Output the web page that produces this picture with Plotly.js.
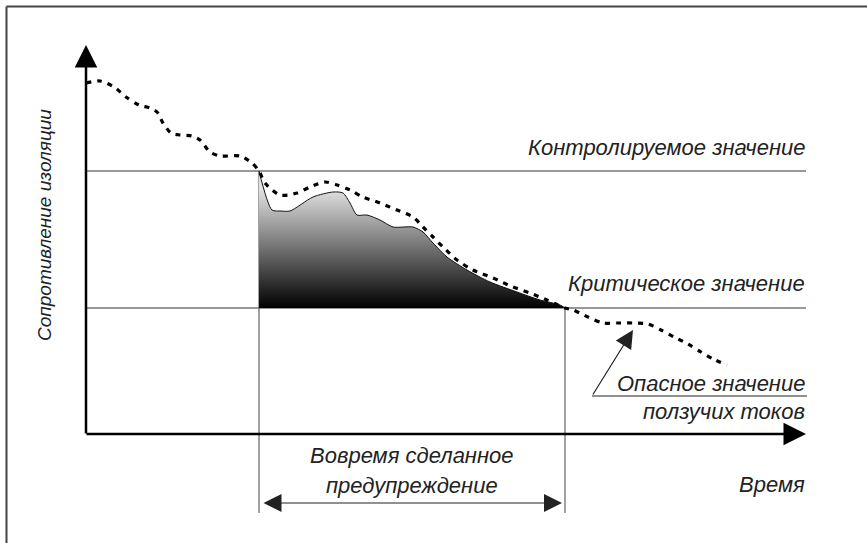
<!DOCTYPE html>
<html><head><meta charset="utf-8">
<script src="https://cdn.plot.ly/plotly-3.0.1.min.js"></script>
<style>body{margin:0;background:#fff}#c{width:867px;height:543px}</style>
</head><body><div id="c"></div>
<script>
// Schematic units: time t (0 at the vertical axis), resistance R (0 at the time axis)
const dottedT = [0,14,28,40,53,64,71,77,85,94,106,114,124,134,154,166,173,179,194,211,224,239,251,264,277,294,311,327,337,347,357,371,387,407,427,444,461,479,487,502,517,531,547,562,575,588,602,615,627,641];
const dottedR = [351,353,347,337,329,326,322,311,301,299,298,294,282,278,278,271,263,251,239,241,247,252,249,244,237,231,224,217,207,197,187,174,164,156,147,141,134,126,124,117,111,111,111,110,104,97,90,82,75,69];

const areaT = [173,186,195,204,227,247,257,264,271,281,294,307,327,337,347,361,381,404,431,454,474,479];
const areaR = [263,224,223,223,237,242,241,231,219,219,214,207,207,202,191,177,164,152,142,134,129,126];

const controlValue = 263;   // Контролируемое значение
const criticalValue = 126;  // Критическое значение
const levelT = [0, 720];
const warnStartT = 173, warnEndT = 479;
const leaderBottomR = -79;

const axisTmax = 720, axisRmax = 389;

const labels = {
  yTitle: 'Сопротивление изоляции',
  control: 'Контролируемое значение',
  critical: 'Критическое значение',
  danger1: 'Опасное значение',
  danger2: 'ползучих токов',
  time: 'Время',
  warn1: 'Вовремя сделанное',
  warn2: 'предупреждение'
};

const FONT = 'Liberation Sans, Arial, sans-serif';
const TXT = '#222';
const fs = 22;

const traces = [
  {x: levelT, y: [controlValue, controlValue], mode:'lines', line:{color:'#333', width:1}, hoverinfo:'skip'},
  {x: levelT, y: [criticalValue, criticalValue], mode:'lines', line:{color:'#333', width:1}, hoverinfo:'skip'},
  {x: [warnStartT, warnStartT], y: [controlValue, leaderBottomR], mode:'lines', line:{color:'#444', width:1}, hoverinfo:'skip'},
  {x: [warnEndT, warnEndT], y: [criticalValue, leaderBottomR], mode:'lines', line:{color:'#444', width:1}, hoverinfo:'skip'},
  {x: [areaT[0], areaT[areaT.length-1]], y: [criticalValue, criticalValue], mode:'lines', line:{width:0, color:'rgba(0,0,0,0)'}, hoverinfo:'skip'},
  {x: areaT, y: areaR, mode:'lines', fill:'tonexty',
   line:{color:'#111', width:1, shape:'spline', smoothing:0.7},
   fillgradient:{type:'vertical', start: criticalValue, stop: 245,
                 colorscale:[[0,'#000000'],[1,'#e2e2e2']]},
   hoverinfo:'skip'},
  {x: dottedT, y: dottedR, mode:'lines',
   line:{color:'#000', width:3.2, dash:'5px,6px', shape:'spline', smoothing:0.8}, hoverinfo:'skip'}
];

function txt(t, x, y, xanchor, extra) {
  return Object.assign({text:'<i>'+t+'</i>', x:x, y:y, xref:'x', yref:'y', showarrow:false,
    xanchor:xanchor, yanchor:'middle', font:{family:FONT, size:fs, color:TXT}}, extra||{});
}
function arrow(x0,y0,x1,y1,opts) {
  return Object.assign({text:'', x:x1, y:y1, ax:x0, ay:y0, xref:'x', yref:'y', axref:'x', ayref:'y',
    showarrow:true, arrowcolor:'#000'}, opts);
}

const annotations = [
  arrow(0, -1, 0, axisRmax, {arrowhead:2, arrowwidth:2.5, arrowsize:1.8}),
  arrow(-1, 0, axisTmax, 0, {arrowhead:2, arrowwidth:2.5, arrowsize:1.8}),
  arrow(warnStartT+3, -69, warnEndT-3, -69, {arrowhead:2, startarrowhead:2, arrowside:'end+start', arrowwidth:1.2, arrowsize:3, startarrowsize:3, arrowcolor:'#222'}),
  arrow(506, 38, 547, 104, {arrowhead:2, arrowwidth:1.2, arrowsize:3, arrowcolor:'#222'}),
  txt(labels.control, 721, 287, 'right'),
  txt(labels.critical, 721, 151, 'right'),
  txt(labels.danger1, 721, 51, 'right'),
  txt(labels.danger2, 721, 23, 'right'),
  txt(labels.time, 721, -50, 'right'),
  txt(labels.warn1, 326, -21, 'center'),
  txt(labels.warn2, 326, -51, 'center'),
  txt(labels.yTitle, -42, 209, 'center', {textangle:-90, xanchor:'center', font:{family:FONT, size:19, color:TXT}})
];

const layout = {
  width: 867, height: 543,
  margin:{l:0, r:0, t:0, b:0},
  paper_bgcolor:'#fff', plot_bgcolor:'#fff',
  showlegend:false,
  xaxis:{range:[-86, 781], visible:false, fixedrange:true},
  yaxis:{range:[-109, 434], visible:false, fixedrange:true},
  annotations: annotations,
  shapes:[
    {type:'line', xref:'x', yref:'y', x0:506, y0:38, x1:721, y1:38, line:{color:'#222', width:1}},
    {type:'line', xref:'paper', yref:'paper', x0:6.5/867, x1:1, y0:1-6.5/543, y1:1-6.5/543, line:{color:'#444', width:2}},
    {type:'line', xref:'paper', yref:'paper', x0:6.5/867, x1:6.5/867, y0:0, y1:1-6.5/543, line:{color:'#444', width:2}}
  ]
};

Plotly.newPlot('c', traces, layout, {staticPlot:true, displayModeBar:false});
</script>
</body></html>
